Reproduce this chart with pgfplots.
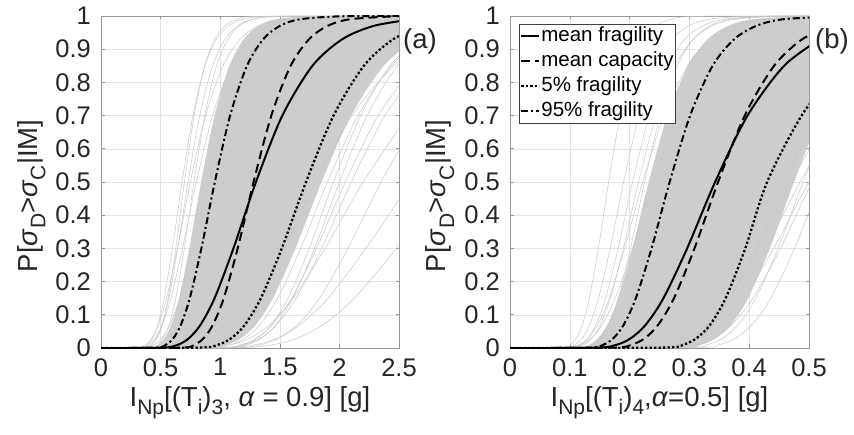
\documentclass[border=0pt]{standalone}
\usepackage{fontspec}
\setmainfont{Liberation Sans}
\usepackage{pgfplots}
\pgfplotsset{compat=1.18}
\usepgfplotslibrary{fillbetween}
\definecolor{bandgray}{RGB}{205,205,205}
\definecolor{thingray}{RGB}{200,200,200}
\definecolor{gridgray}{RGB}{228,228,228}
\definecolor{framegray}{RGB}{150,150,150}
\newcommand\sub[1]{\raisebox{-0.3em}{\fontsize{21}{21}\selectfont #1}}

\pgfplotsset{
  frag/.style={
    scale only axis, width=298pt, height=332pt,
    ymin=0, ymax=1,
    ytick={0,0.1,0.2,0.3,0.4,0.5,0.6,0.7,0.8,0.9,1},
    grid=major, major grid style={draw=gridgray, line width=0.5pt},
    axis line style={draw=framegray, line width=0.6pt},
    tick style={draw=framegray, line width=0.6pt},
    tick align=inside, major tick length=3.5pt,
    /pgf/number format/assume math mode=true,
    ticklabel style={font=\fontsize{25.5}{25.5}\selectfont, text=black!85, inner sep=0pt},
    xticklabel style={yshift=-10pt},
    yticklabel style={xshift=-10pt},
    label style={font=\fontsize{27.5}{30}\selectfont, text=black!85, inner sep=0pt},
    xlabel style={at={(axis description cs:0.5,0)}, anchor=north, yshift=-38pt},
    ylabel style={at={(axis description cs:-0.234,0.458)}, anchor=center},
    clip=true,
  },
  grayline/.style={color=thingray, line width=0.5pt, smooth, forget plot},
  env/.style={draw=none, smooth, forget plot},
  meanfrag/.style={black, line width=2pt, smooth},
  meancap/.style={black, line width=2pt, smooth, dash pattern=on 9pt off 5pt},
  fivepct/.style={black, line width=2.3pt, smooth, dash pattern=on 2.3pt off 2.2pt},
  ninetyfive/.style={black, line width=2pt, smooth, dash pattern=on 7pt off 3pt on 2pt off 3pt},
}

\begin{document}
\begin{tikzpicture}

% ---------------- panel (a)
\begin{axis}[frag, at={(101pt,86pt)}, anchor=south west,
  xmin=0, xmax=2.5, xtick={0,0.5,1,1.5,2,2.5},
  xlabel={I\sub{Np}[(T\sub{i})\sub{3}, \textit{α} = 0.9] [g]},
  ylabel={P[\textit{σ}\sub{D}>\textit{σ}\sub{C}|IM]},
]
\addplot[env, name path=La] coordinates {(0,0) (0.4002,0.001) (0.4806,0.01) (0.5348,0.03) (0.5894,0.07) (0.6551,0.15) (0.7407,0.3) (0.84,0.5) (0.9526,0.7) (1.0770,0.85) (1.1970,0.93) (1.3192,0.97) (1.4679,0.99) (1.7635,0.999) (2.6,1)};
\addplot[env, name path=Ra] coordinates {(0,0) (0.8813,0.001) (1.0586,0.01) (1.1779,0.03) (1.2981,0.07) (1.4428,0.15) (1.6313,0.3) (1.85,0.5) (2.0981,0.7) (2.3721,0.85) (2.6363,0.93)};
\addplot[fill=bandgray, draw=none, forget plot] fill between[of=La and Ra];

\addplot[grayline] coordinates {(0,0) (0.3240,0.001) (0.3891,0.01) (0.4330,0.03) (0.4772,0.07) (0.5303,0.15) (0.5996,0.3) (0.68,0.5) (0.7712,0.7) (0.8719,0.85) (0.9690,0.93) (1.0679,0.97) (1.1883,0.99) (1.4276,0.999) (2.6,1)};
\addplot[grayline] coordinates {(0,0) (0.3478,0.001) (0.4177,0.01) (0.4648,0.03) (0.5122,0.07) (0.5693,0.15) (0.6437,0.3) (0.73,0.5) (0.8279,0.7) (0.9360,0.85) (1.0403,0.93) (1.1465,0.97) (1.2757,0.99) (1.5326,0.999) (2.6,1)};
\addplot[grayline] coordinates {(0,0) (0.4076,0.001) (0.4785,0.01) (0.5255,0.03) (0.5721,0.07) (0.6275,0.15) (0.6987,0.3) (0.78,0.5) (0.8707,0.7) (0.9695,0.85) (1.0635,0.93) (1.1578,0.97) (1.2713,0.99) (1.4925,0.999) (2.6,1)};
\addplot[grayline] coordinates {(0,0) (0.3166,0.001) (0.3982,0.01) (0.4550,0.03) (0.5138,0.07) (0.5863,0.15) (0.6836,0.3) (0.80,0.5) (0.9362,0.7) (1.0916,0.85) (1.2457,0.93) (1.4067,0.97) (1.6074,0.99) (2.0212,0.999) (2.6,1)};
\addplot[grayline] coordinates {(0,0) (0.2969,0.001) (0.3733,0.01) (0.4265,0.03) (0.4817,0.07) (0.5497,0.15) (0.6409,0.3) (0.75,0.5) (0.8777,0.7) (1.0234,0.85) (1.1678,0.93) (1.3188,0.97) (1.5069,0.99) (1.8949,0.999) (2.6,1)};
\addplot[grayline] coordinates {(0,0) (0.3658,0.001) (0.4295,0.01) (0.4716,0.03) (0.5134,0.07) (0.5632,0.15) (0.6271,0.3) (0.70,0.5) (0.7814,0.7) (0.8701,0.85) (0.9545,0.93) (1.0390,0.97) (1.1409,0.99) (1.3395,0.999) (2.6,1)};
\addplot[grayline] coordinates {(0,0) (0.3562,0.001) (0.4479,0.01) (0.5118,0.03) (0.5780,0.07) (0.6596,0.15) (0.7691,0.3) (0.90,0.5) (1.0533,0.7) (1.2281,0.85) (1.4014,0.93) (1.5826,0.97) (1.8083,0.99) (2.2739,0.999) (2.6,1)};
\addplot[grayline] coordinates {(0,0) (0.9052,0.001) (1.0872,0.01) (1.2097,0.03) (1.3332,0.07) (1.4818,0.15) (1.6754,0.3) (1.9,0.5) (2.1548,0.7) (2.4362,0.85) (2.7075,0.93)};
\addplot[grayline] coordinates {(0,0) (1.0452,0.001) (1.2270,0.01) (1.3474,0.03) (1.4668,0.07) (1.6090,0.15) (1.7916,0.3) (2.0,0.5) (2.2326,0.7) (2.4860,0.85) (2.7270,0.93)};
\addplot[grayline] coordinates {(0,0) (0.9766,0.001) (1.1730,0.01) (1.3052,0.03) (1.4385,0.07) (1.5988,0.15) (1.8077,0.3) (2.05,0.5) (2.3249,0.7) (2.6285,0.85)};
\addplot[grayline] coordinates {(0,0) (1.0191,0.001) (1.1963,0.01) (1.3137,0.03) (1.4301,0.07) (1.5688,0.15) (1.7468,0.3) (1.95,0.5) (2.1768,0.7) (2.4239,0.85) (2.6588,0.93)};
\addplot[grayline] coordinates {(0,0) (1.0004,0.001) (1.2016,0.01) (1.3371,0.03) (1.4736,0.07) (1.6378,0.15) (1.8518,0.3) (2.1,0.5) (2.3816,0.7) (2.6926,0.85)};
\addplot[grayline] coordinates {(0,0) (1.1195,0.001) (1.3447,0.01) (1.4962,0.03) (1.6490,0.07) (1.8328,0.15) (2.0722,0.3) (2.35,0.5) (2.6651,0.7)};
\addplot[grayline] coordinates {(0,0) (0.7124,0.001) (0.8959,0.01) (1.0237,0.03) (1.1560,0.07) (1.3192,0.15) (1.5381,0.3) (1.8,0.5) (2.1065,0.7) (2.4561,0.85) (2.8028,0.93)};
\addplot[grayline] coordinates {(0,0) (1.0291,0.001) (1.2940,0.01) (1.4786,0.03) (1.6697,0.07) (1.9055,0.15) (2.2217,0.3) (2.6,0.5)};
\addplot[grayline] coordinates {(0,0) (0.8708,0.001) (1.0949,0.01) (1.2511,0.03) (1.4128,0.07) (1.6124,0.15) (1.8799,0.3) (2.2,0.5) (2.5747,0.7)};
\addplot[grayline] coordinates {(0,0) (1.1478,0.001) (1.4433,0.01) (1.6492,0.03) (1.8624,0.07) (2.1254,0.15) (2.4781,0.3) (2.9,0.5)};

\addplot[meanfrag] coordinates {(0,0) (0.5145,0.001) (0.6470,0.01) (0.7393,0.03) (0.8349,0.07) (0.9528,0.15) (1.1109,0.3) (1.30,0.5) (1.5214,0.7) (1.7739,0.85) (2.0242,0.93) (2.2859,0.97) (2.6120,0.99)};
\addplot[meancap] coordinates {(0,0) (0.6689,0.001) (0.7853,0.01) (0.8623,0.03) (0.9388,0.07) (1.0298,0.15) (1.1466,0.3) (1.28,0.5) (1.4289,0.7) (1.5910,0.85) (1.7453,0.93) (1.8999,0.97) (2.0863,0.99) (2.4493,0.999) (2.6,1)};
\addplot[fivepct] coordinates {(0,0) (0.8194,0.001) (0.9842,0.01) (1.0951,0.03) (1.2069,0.07) (1.3414,0.15) (1.5167,0.3) (1.72,0.5) (1.9507,0.7) (2.2054,0.85) (2.4510,0.93) (2.7013,0.97)};
\addplot[ninetyfive] coordinates {(0,0) (0.4550,0.001) (0.5465,0.01) (0.6080,0.03) (0.6701,0.07) (0.7448,0.15) (0.8421,0.3) (0.955,0.5) (1.0831,0.7) (1.2245,0.85) (1.3609,0.93) (1.4998,0.97) (1.6689,0.99) (2.0049,0.999) (2.6,1)};
\end{axis}

% ---------------- panel (b)
\begin{axis}[frag, at={(510pt,86pt)}, anchor=south west, width=299pt,
  xmin=0, xmax=0.5, xtick={0,0.1,0.2,0.3,0.4,0.5},
  xlabel={I\sub{Np}[(T\sub{i})\sub{4},\textit{α}=0.5] [g]},
  ylabel={P[\textit{σ}\sub{D}>\textit{σ}\sub{C}|IM]},
  legend style={at={(0.03,0.976)}, anchor=north west, draw=black!75, line width=0.6pt,
    fill=white, font=\fontsize{20.5}{20.5}\selectfont, inner sep=1pt, row sep=3.5pt,
    nodes={inner sep=0.8pt, text height=15pt, text depth=5pt}},
  legend cell align=left,
  legend image code/.code={\draw[#1] (0pt,0pt) -- (18pt,0pt);},
]
\addplot[env, name path=Lb] coordinates {(0,0) (0.1105,0.001) (0.1328,0.01) (0.1477,0.03) (0.1628,0.07) (0.1809,0.15) (0.2046,0.3) (0.232,0.5) (0.2631,0.7) (0.2975,0.85) (0.3306,0.93) (0.3644,0.97) (0.4054,0.99) (0.4871,0.999) (0.55,1)};
\addplot[env, name path=Rb] coordinates {(0,0) (0.2809,0.001) (0.3199,0.01) (0.3450,0.03) (0.3696,0.07) (0.3983,0.15) (0.4345,0.3) (0.475,0.5) (0.5192,0.7) (0.5664,0.85)};
\addplot[fill=bandgray, draw=none, forget plot] fill between[of=Lb and Rb];

\addplot[grayline] coordinates {(0,0) (0.0862,0.001) (0.1012,0.01) (0.1112,0.03) (0.1210,0.07) (0.1327,0.15) (0.1478,0.3) (0.165,0.5) (0.1842,0.7) (0.2051,0.85) (0.2250,0.93) (0.2449,0.97) (0.2689,0.99) (0.3157,0.999) (0.55,1)};
\addplot[grayline] coordinates {(0,0) (0.0977,0.001) (0.1173,0.01) (0.1305,0.03) (0.1438,0.07) (0.1599,0.15) (0.1808,0.3) (0.205,0.5) (0.2325,0.7) (0.2629,0.85) (0.2921,0.93) (0.3220,0.97) (0.3582,0.99) (0.4304,0.999) (0.55,1)};
\addplot[grayline] coordinates {(0,0) (0.1024,0.001) (0.1230,0.01) (0.1369,0.03) (0.1509,0.07) (0.1677,0.15) (0.1896,0.3) (0.215,0.5) (0.2438,0.7) (0.2757,0.85) (0.3064,0.93) (0.3377,0.97) (0.3757,0.99) (0.4514,0.999) (0.55,1)};
\addplot[grayline] coordinates {(0,0) (0.0935,0.001) (0.1157,0.01) (0.1311,0.03) (0.1469,0.07) (0.1661,0.15) (0.1917,0.3) (0.222,0.5) (0.2571,0.7) (0.2967,0.85) (0.3356,0.93) (0.3760,0.97) (0.4259,0.99) (0.5273,0.999)};
\addplot[grayline] coordinates {(0,0) (0.0905,0.001) (0.1087,0.01) (0.1210,0.03) (0.1333,0.07) (0.1482,0.15) (0.1675,0.3) (0.19,0.5) (0.2155,0.7) (0.2436,0.85) (0.2708,0.93) (0.2984,0.97) (0.3320,0.99) (0.3989,0.999) (0.55,1)};
\addplot[grayline] coordinates {(0,0) (0.1176,0.001) (0.1380,0.01) (0.1516,0.03) (0.1650,0.07) (0.1810,0.15) (0.2016,0.3) (0.225,0.5) (0.2512,0.7) (0.2797,0.85) (0.3068,0.93) (0.3340,0.97) (0.3667,0.99) (0.4305,0.999) (0.55,1)};
\addplot[grayline] coordinates {(0,0) (0.0950,0.001) (0.1194,0.01) (0.1365,0.03) (0.1541,0.07) (0.1759,0.15) (0.2051,0.3) (0.24,0.5) (0.2809,0.7) (0.3275,0.85) (0.3737,0.93) (0.4220,0.97) (0.4822,0.99) (0.6064,0.999)};
\addplot[grayline] coordinates {(0,0) (0.2897,0.001) (0.3300,0.01) (0.3559,0.03) (0.3813,0.07) (0.4109,0.15) (0.4483,0.3) (0.49,0.5) (0.5356,0.7)};
\addplot[grayline] coordinates {(0,0) (0.2639,0.001) (0.3098,0.01) (0.3402,0.03) (0.3704,0.07) (0.4063,0.15) (0.4524,0.3) (0.505,0.5) (0.5637,0.7)};
\addplot[grayline] coordinates {(0,0) (0.2404,0.001) (0.2822,0.01) (0.3099,0.03) (0.3374,0.07) (0.3701,0.15) (0.4121,0.3) (0.46,0.5) (0.5135,0.7) (0.5718,0.85)};
\addplot[grayline] coordinates {(0,0) (0.2311,0.001) (0.2775,0.01) (0.3088,0.03) (0.3403,0.07) (0.3783,0.15) (0.4277,0.3) (0.485,0.5) (0.5500,0.7)};
\addplot[grayline] coordinates {(0,0) (0.2239,0.001) (0.2689,0.01) (0.2992,0.03) (0.3298,0.07) (0.3666,0.15) (0.4144,0.3) (0.47,0.5) (0.5330,0.7)};
\addplot[grayline] coordinates {(0,0) (0.3075,0.001) (0.3502,0.01) (0.3777,0.03) (0.4046,0.07) (0.4361,0.15) (0.4757,0.3) (0.52,0.5) (0.5684,0.7)};
\addplot[grayline] coordinates {(0,0) (0.1895,0.001) (0.2346,0.01) (0.2657,0.03) (0.2977,0.07) (0.3367,0.15) (0.3886,0.3) (0.45,0.5) (0.5211,0.7)};
\addplot[grayline] coordinates {(0,0) (0.2382,0.001) (0.2861,0.01) (0.3184,0.03) (0.3509,0.07) (0.3900,0.15) (0.4409,0.3) (0.5,0.5) (0.5671,0.7)};

\addplot[meanfrag] coordinates {(0,0) (0.1444,0.001) (0.1788,0.01) (0.2025,0.03) (0.2269,0.07) (0.2566,0.15) (0.2962,0.3) (0.343,0.5) (0.3972,0.7) (0.4584,0.85) (0.5185,0.93)};
\addlegendentry{mean fragility}
\addplot[meancap] coordinates {(0,0) (0.1710,0.001) (0.2038,0.01) (0.2258,0.03) (0.2478,0.07) (0.2742,0.15) (0.3085,0.3) (0.348,0.5) (0.3925,0.7) (0.4416,0.85) (0.4886,0.93) (0.5364,0.97)};
\addlegendentry{mean capacity}
\addplot[fivepct] coordinates {(0,0) (0.2543,0.001) (0.2896,0.01) (0.3123,0.03) (0.3346,0.07) (0.3606,0.15) (0.3934,0.3) (0.43,0.5) (0.4877,0.7) (0.5513,0.85)};
\addlegendentry{5\% fragility}
\addplot[ninetyfive] coordinates {(0,0) (0.1312,0.001) (0.1564,0.01) (0.1732,0.03) (0.1902,0.07) (0.2104,0.15) (0.2367,0.3) (0.267,0.5) (0.3012,0.7) (0.3388,0.85) (0.3749,0.93) (0.4115,0.97) (0.4559,0.99) (0.5435,0.999)};
\addlegendentry{95\% fragility}
\end{axis}

\node[anchor=west, inner sep=0pt, font=\fontsize{27.5}{27.5}\selectfont, text=black!85] at (403pt,393pt) {(a)};
\node[anchor=west, inner sep=0pt, font=\fontsize{27.5}{27.5}\selectfont, text=black!85] at (815pt,393pt) {(b)};

\pgfresetboundingbox
\path (0,0) rectangle (854pt,434pt);
\end{tikzpicture}
\end{document}
